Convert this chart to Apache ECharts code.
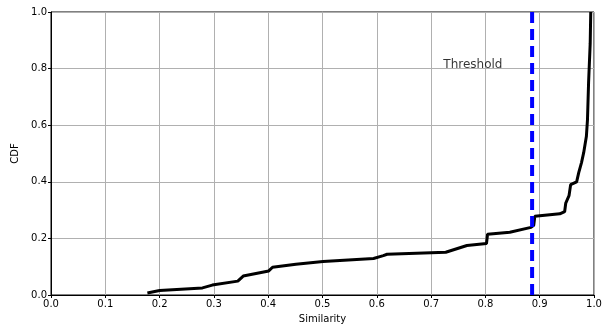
<!DOCTYPE html>
<html>
<head>
  <meta charset="utf-8">
</head>
<body style="margin: 0">
  <div id="container" style="width: 610px; height: 329px"></div>
  <script src="https://cdn.jsdelivr.net/npm/echarts@6/dist/echarts.min.js"></script>
  <script>
    // CDF curve
    var simX = [0.1775, 0.200, 0.279, 0.297, 0.344, 0.354, 0.401, 0.408, 0.451, 0.501, 0.594, 0.612, 0.619,
      0.727, 0.766, 0.802, 0.804, 0.845, 0.884, 0.889, 0.891, 0.937, 0.946, 0.948, 0.954, 0.957, 0.968,
      0.972, 0.977, 0.981, 0.986, 0.988, 0.990, 0.993, 0.994];
    var cdfY = [0.007, 0.016, 0.025, 0.035, 0.049, 0.067, 0.085, 0.098, 0.109, 0.118, 0.129, 0.139, 0.144,
      0.151, 0.175, 0.182, 0.215, 0.222, 0.239, 0.246, 0.278, 0.287, 0.295, 0.325, 0.351, 0.390, 0.400,
      0.433, 0.468, 0.503, 0.561, 0.620, 0.749, 0.889, 1.0];
    var threshold = 0.886;
    var labelText = 'Threshold';
    var labelPos = [0.777, 0.813];

    var font = 'DejaVu Sans';
    var myChart = echarts.init(document.getElementById('container'), null, { renderer: 'canvas' });

    var option = {
      animation: false,
      grid: {
        left: 51, right: 16, top: 12, bottom: 33,
        show: true, borderColor: '#000', borderWidth: 1, backgroundColor: '#fff'
      },
      xAxis: {
        type: 'value', min: 0, max: 1, interval: 0.1,
        name: 'Similarity', nameLocation: 'middle', nameGap: 19,
        nameTextStyle: { fontFamily: font, fontSize: 10, color: '#000' },
        axisLine: { show: true, lineStyle: { color: '#000', width: 1 } },
        axisTick: { show: true, length: 3, lineStyle: { color: '#000' } },
        axisLabel: { fontFamily: font, fontSize: 10, color: '#000', margin: 4,
          formatter: function (v) { return v.toFixed(1); } },
        splitLine: { show: true, lineStyle: { color: '#b0b0b0', width: 1 } }
      },
      yAxis: {
        type: 'value', min: 0, max: 1, interval: 0.2,
        name: 'CDF', nameLocation: 'middle', nameGap: 30,
        nameTextStyle: { fontFamily: font, fontSize: 10, color: '#000' },
        axisLine: { show: true, lineStyle: { color: '#000', width: 1 } },
        axisTick: { show: true, length: 3, lineStyle: { color: '#000' } },
        axisLabel: { fontFamily: font, fontSize: 10, color: '#000', margin: 4,
          formatter: function (v) { return v.toFixed(1); } },
        splitLine: { show: true, lineStyle: { color: '#b0b0b0', width: 1 } }
      },
      series: [
        {
          type: 'line',
          data: simX.map(function (x, i) { return [x, cdfY[i]]; }),
          showSymbol: false,
          lineStyle: { color: '#000', width: 3 },
          z: 3
        },
        {
          type: 'line',
          data: [[threshold, 0], [threshold, 1]],
          showSymbol: false,
          lineStyle: { color: '#0000ff', width: 4, type: [11, 6] },
          z: 4
        },
        {
          type: 'scatter',
          data: [labelPos],
          symbolSize: 0,
          label: {
            show: true, position: 'inside', formatter: labelText,
            fontFamily: font, fontSize: 12, color: '#000', textBorderWidth: 0
          },
          z: 5
        }
      ]
    };

    myChart.setOption(option);
  </script>
</body>
</html>
